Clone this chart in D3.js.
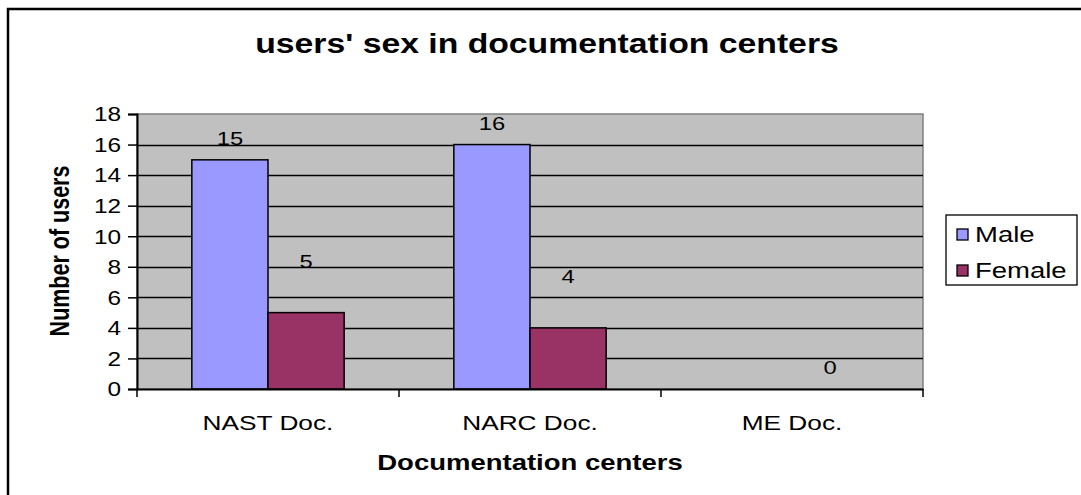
<!doctype html>
<html>
<head>
<meta charset="UTF-8">
<title>users' sex in documentation centers</title>
<script src="https://cdn.jsdelivr.net/npm/d3@7"></script>
<style>
  body { margin: 0; background: #fff; }
  svg { display: block; }
  text { font-family: "Liberation Sans", Arial, sans-serif; fill: #000; }
</style>
</head>
<body>
<script>
// data
var centers = ["NAST Doc.", "NARC Doc.", "ME Doc."];
var seriesNames = ["Male", "Female"];
var male = [15, 16, null];
var female = [5, 4, 0];
var yTicks = [0, 2, 4, 6, 8, 10, 12, 14, 16, 18];

var colors = { Male: "#9999ff", Female: "#993366" };
var W = 1081, H = 495;
var sx = 1.25; // the picture is stretched sideways

var svg = d3.select("body").append("svg")
  .attr("width", W).attr("height", H);

// outer frame, only top and left are in view
svg.append("rect")
  .attr("x", 8).attr("y", 9).attr("width", 1100).attr("height", 520)
  .attr("fill", "#fff").attr("stroke", "#000").attr("stroke-width", 2.5);

var plot = { left: 137, right: 923, top: 114, bottom: 389 };

var x = d3.scaleBand().domain(centers).range([plot.left, plot.right]);
var x1 = d3.scaleBand().domain(seriesNames)
  .range([0, x.bandwidth()]).paddingInner(0).paddingOuter(0.72);
var y = d3.scaleLinear().domain([0, 18]).range([plot.bottom, plot.top]);

function stretched(sel, px, py) {
  return sel.attr("transform", "translate(" + px + "," + py + ") scale(" + sx + ",1)");
}

// title
stretched(svg.append("text"), 547, 53)
  .attr("text-anchor", "middle").attr("font-size", 27).attr("font-weight", "bold")
  .text("users' sex in documentation centers");

// plot background
svg.append("rect")
  .attr("x", plot.left).attr("y", plot.top)
  .attr("width", plot.right - plot.left).attr("height", plot.bottom - plot.top)
  .attr("fill", "#c0c0c0").attr("stroke", "#808080").attr("stroke-width", 1.5);

// gridlines
svg.append("g").selectAll("line")
  .data(yTicks.filter(function(d) { return d > 0 && d < 18; }))
  .enter().append("line")
  .attr("x1", plot.left).attr("x2", plot.right)
  .attr("y1", function(d) { return Math.round(y(d)) + 0.5; })
  .attr("y2", function(d) { return Math.round(y(d)) + 0.5; })
  .attr("stroke", "#000").attr("stroke-width", 1.3);

// bars
var rows = [];
centers.forEach(function(c, i) {
  rows.push({ c: c, s: "Male", v: male[i] });
  rows.push({ c: c, s: "Female", v: female[i] });
});

svg.append("g").selectAll("rect")
  .data(rows.filter(function(d) { return d.v > 0; }))
  .enter().append("rect")
  .attr("x", function(d) { return x(d.c) + x1(d.s); })
  .attr("y", function(d) { return y(d.v); })
  .attr("width", x1.bandwidth())
  .attr("height", function(d) { return y(0) - y(d.v); })
  .attr("fill", function(d) { return colors[d.s]; })
  .attr("stroke", "#000").attr("stroke-width", 1.5);

// value labels (female ones sit higher in the original)
svg.append("g").selectAll("text")
  .data(rows.filter(function(d) { return d.v != null; }))
  .enter().append("text")
  .attr("text-anchor", "middle").attr("font-size", 19)
  .each(function(d) {
    var off = (d.s == "Female" && d.v > 0) ? 45 : 15;
    stretched(d3.select(this), x(d.c) + x1(d.s) + x1.bandwidth() / 2, y(d.v) - off);
  })
  .text(function(d) { return d.v; });

// y axis
var yAxis = svg.append("g")
  .attr("transform", "translate(" + plot.left + ",0)")
  .call(d3.axisLeft(y).tickValues(yTicks).tickSize(9).tickPadding(0).tickFormat(d3.format("d")));
yAxis.select(".domain").attr("stroke", "#000").attr("stroke-width", 2);
yAxis.selectAll(".tick line").attr("stroke", "#000").attr("stroke-width", 1.5);
yAxis.selectAll(".tick text")
  .attr("font-family", null).attr("font-size", 19.5)
  .attr("x", 0).attr("dy", "0.35em")
  .attr("transform", "translate(-16,0) scale(" + sx + ",1)");

// x axis
var xAxis = svg.append("g")
  .attr("transform", "translate(0," + plot.bottom + ")")
  .call(d3.axisBottom(x).tickSize(0).tickPadding(0));
xAxis.select(".domain").attr("stroke", "#000").attr("stroke-width", 2);
xAxis.selectAll(".tick text").remove();
xAxis.selectAll(".sep")
  .data(centers.concat(["end"]))
  .enter().append("line")
  .attr("x1", function(d, i) { return i < centers.length ? x(d) : plot.right; })
  .attr("x2", function(d, i) { return i < centers.length ? x(d) : plot.right; })
  .attr("y1", 0).attr("y2", 8)
  .attr("stroke", "#000").attr("stroke-width", 1.5);

svg.append("g").selectAll("text")
  .data(centers)
  .enter().append("text")
  .attr("text-anchor", "middle").attr("font-size", 21)
  .each(function(d) {
    stretched(d3.select(this), x(d) + x.bandwidth() / 2, 430);
  })
  .text(function(d) { return d; });

// axis titles
stretched(svg.append("text"), (plot.left + plot.right) / 2, 470)
  .attr("text-anchor", "middle").attr("font-size", 22).attr("font-weight", "bold")
  .text("Documentation centers");

svg.append("text")
  .attr("transform", "translate(69,251) scale(" + sx + ",1) rotate(-90)")
  .attr("text-anchor", "middle").attr("font-size", 21.5).attr("font-weight", "bold")
  .text("Number of users");

// legend
var lg = svg.append("g");
lg.append("rect")
  .attr("x", 946).attr("y", 215).attr("width", 131).attr("height", 70)
  .attr("fill", "#fff").attr("stroke", "#000").attr("stroke-width", 1.3);
var items = lg.selectAll(".item").data(seriesNames).enter().append("g");
items.append("rect")
  .attr("x", 957).attr("y", function(d, i) { return 229 + i * 36; })
  .attr("width", 11).attr("height", 11)
  .attr("fill", function(d) { return colors[d]; })
  .attr("stroke", "#000").attr("stroke-width", 1.3);
items.append("text")
  .attr("font-size", 22)
  .each(function(d, i) { stretched(d3.select(this), 975, 242 + i * 36); })
  .text(function(d) { return d; });
</script>
</body>
</html>
